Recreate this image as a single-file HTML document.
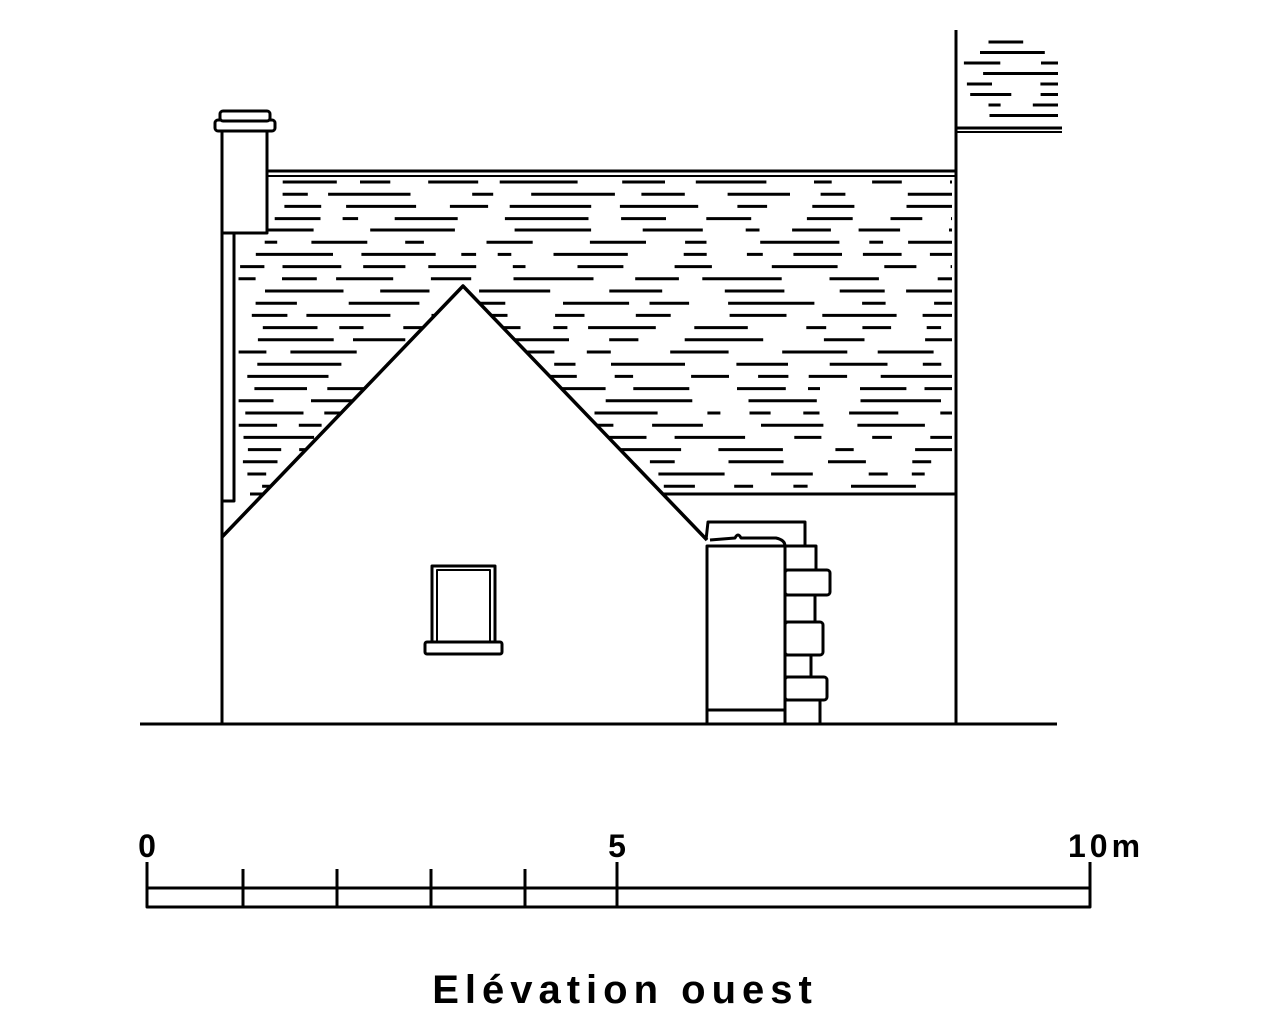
<!DOCTYPE html>
<html><head><meta charset="utf-8"><style>
html,body{margin:0;padding:0;background:#fff;width:1265px;height:1024px;overflow:hidden}
svg{display:block}
text{font-family:"Liberation Sans",sans-serif;font-weight:bold;fill:#000}
</style></head><body>
<svg id="s" width="1265" height="1024" viewBox="0 0 1265 1024" xmlns="http://www.w3.org/2000/svg">
<g id="tiles" stroke="#000" stroke-width="3"></g>
<g fill="#fff" stroke="#000" stroke-width="3" stroke-linejoin="round">
<line x1="265" y1="171" x2="956" y2="171"/>
<line x1="265" y1="176" x2="956" y2="176" stroke-width="2"/>
<line x1="250" y1="494" x2="956" y2="494"/>
<line x1="956" y1="30" x2="956" y2="724"/>
<line x1="956" y1="128" x2="1062" y2="128"/>
<line x1="956" y1="132" x2="1062" y2="132" stroke-width="2"/>
<rect x="222" y="226" width="12" height="275"/>
<rect x="222" y="130" width="45" height="103"/>
<rect x="215" y="120" width="60" height="11" rx="3"/>
<rect x="220" y="111" width="50" height="10" rx="3"/>
<polygon points="222,537 463,286 707,540 707,724 222,724" stroke="none"/>
<polyline points="222,537 463,286 707,540" fill="none" stroke-width="3.5"/>
<line x1="222" y1="226" x2="222" y2="724"/>
<rect x="432" y="566" width="63" height="78"/>
<rect x="437" y="570" width="53" height="72" fill="none" stroke-width="2"/>
<rect x="425" y="642" width="77" height="12" rx="2"/>
<polyline points="706,540 708,522 805,522 805,545" fill="none"/>
<path d="M710,540 L735,538 Q738,532 741,538 L776,538 Q785,540 785,546" fill="none"/>
<rect x="785" y="546" width="31" height="24"/>
<rect x="785" y="570" width="45" height="25" rx="3"/>
<rect x="785" y="595" width="30" height="27"/>
<rect x="785" y="622" width="38" height="33" rx="3"/>
<rect x="785" y="655" width="26" height="22"/>
<rect x="785" y="677" width="42" height="23" rx="3"/>
<rect x="785" y="700" width="35" height="24"/>
<rect x="707" y="546" width="78" height="178"/>
<line x1="707" y1="710" x2="785" y2="710"/>
<line x1="140" y1="724" x2="1057" y2="724"/>
<rect x="147" y="888" width="943" height="19"/>
<line x1="147" y1="862" x2="147" y2="907"/>
<line x1="243" y1="869" x2="243" y2="907"/>
<line x1="337" y1="869" x2="337" y2="907"/>
<line x1="431" y1="869" x2="431" y2="907"/>
<line x1="525" y1="869" x2="525" y2="907"/>
<line x1="617" y1="862" x2="617" y2="907"/>
<line x1="1090" y1="862" x2="1090" y2="907"/>
</g>
<text x="147" y="857" font-size="32" text-anchor="middle">0</text>
<text x="617" y="857" font-size="32" text-anchor="middle">5</text>
<text x="1068" y="857" font-size="32" letter-spacing="4">10m</text>
<text x="625" y="1003" font-size="40" text-anchor="middle" letter-spacing="6">Elévation ouest</text>
</svg>
<script>
(function(){
var g=document.getElementById('tiles'),ns='http://www.w3.org/2000/svg';
var seed=7;function r(){seed=(seed*9301+49297)%233280;return seed/233280;}
function rows(x0,x1,y0,y1,dy){
 for(var y=y0;y<=y1;y+=dy){
  var x=x0+r()*30;
  while(x<x1){
   var len=12+r()*75, e=Math.min(x+len,x1);
   var l=document.createElementNS(ns,'line');
   l.setAttribute('x1',x.toFixed(1));l.setAttribute('x2',e.toFixed(1));
   l.setAttribute('y1',y.toFixed(1));l.setAttribute('y2',y.toFixed(1));
   g.appendChild(l);
   x=e+18+r()*45;
  }
 }
}
rows(268,952,182,226,12.2);
rows(236,952,230,490,12.2);
rows(960,1058,42,122,10.5);
})();
</script>
</body></html>
